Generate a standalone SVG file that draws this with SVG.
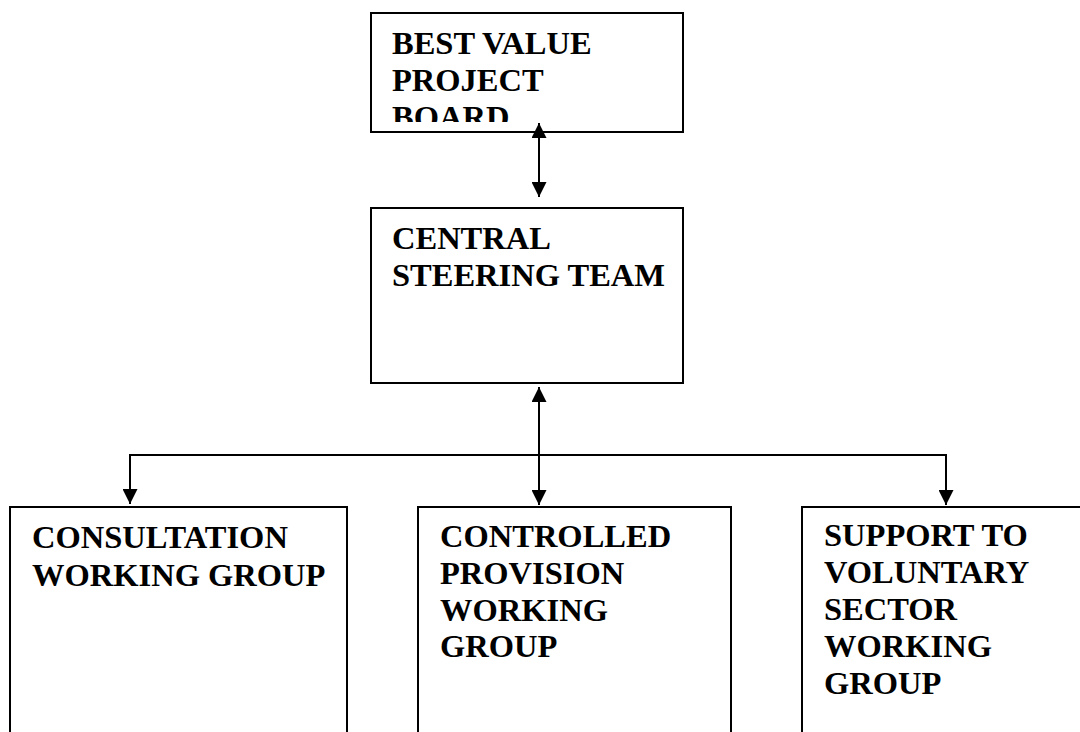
<svg xmlns="http://www.w3.org/2000/svg" width="1080" height="732" viewBox="0 0 1080 732">
  <style>
    .box { fill: #ffffff; stroke: #000000; stroke-width: 2; }
    .lbl { font-family: "Liberation Serif", "Times New Roman", serif; font-weight: bold; font-size: 32.5px; fill: #000000; }
    .conn { fill: none; stroke: #000000; stroke-width: 2; }
  </style>
  <defs>
    <marker id="arrow" viewBox="0 0 15 15" refX="15" refY="7.5" markerWidth="15" markerHeight="15" markerUnits="userSpaceOnUse" orient="auto-start-reverse">
      <path d="M0,0 L15,7.5 L0,15 z" fill="#000000"/>
    </marker>
    <clipPath id="clipTop">
      <rect x="371" y="13" width="311" height="109"/>
    </clipPath>
  </defs>
  <rect width="1080" height="732" fill="#ffffff"/>

  <g id="node-board">
    <rect class="box" x="371" y="13" width="312" height="119"/>
    <g clip-path="url(#clipTop)">
      <text class="lbl" x="392" y="54">BEST VALUE</text>
      <text class="lbl" x="392" y="91">PROJECT</text>
      <text class="lbl" x="392" y="128">BOARD</text>
    </g>
  </g>

  <g id="node-central">
    <rect class="box" x="371" y="208" width="312" height="175"/>
    <text class="lbl" x="392" y="249">CENTRAL</text>
    <text class="lbl" x="392" y="286">STEERING TEAM</text>
  </g>

  <g id="node-consultation">
    <rect class="box" x="10" y="507" width="337" height="260"/>
    <text class="lbl" x="32" y="548">CONSULTATION</text>
    <text class="lbl" x="32" y="586">WORKING GROUP</text>
  </g>

  <g id="node-controlled">
    <rect class="box" x="418" y="507" width="313" height="260"/>
    <text class="lbl" x="440" y="547">CONTROLLED</text>
    <text class="lbl" x="440" y="584">PROVISION</text>
    <text class="lbl" x="440" y="621">WORKING</text>
    <text class="lbl" x="440" y="657">GROUP</text>
  </g>

  <g id="node-support">
    <rect class="box" x="802" y="507" width="300" height="260"/>
    <text class="lbl" x="824" y="546">SUPPORT TO</text>
    <text class="lbl" x="824" y="583">VOLUNTARY</text>
    <text class="lbl" x="824" y="620">SECTOR</text>
    <text class="lbl" x="824" y="657">WORKING</text>
    <text class="lbl" x="824" y="694">GROUP</text>
  </g>

  <g id="connectors">
    <line class="conn" x1="539" y1="123" x2="539" y2="197" marker-start="url(#arrow)" marker-end="url(#arrow)"/>
    <line class="conn" x1="539" y1="387" x2="539" y2="505" marker-start="url(#arrow)" marker-end="url(#arrow)"/>
    <line class="conn" x1="129" y1="455" x2="947" y2="455"/>
    <line class="conn" x1="130" y1="455" x2="130" y2="504" marker-end="url(#arrow)"/>
    <line class="conn" x1="946" y1="455" x2="946" y2="505" marker-end="url(#arrow)"/>
  </g>
</svg>
